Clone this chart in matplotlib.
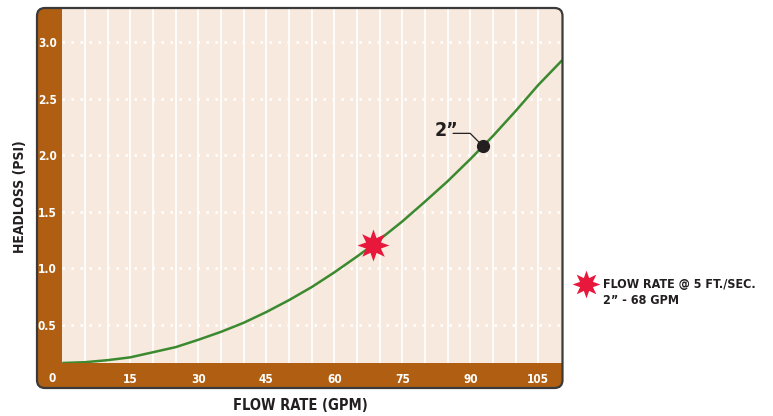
import matplotlib
matplotlib.use("Agg")
import matplotlib.pyplot as plt
import numpy as np
from matplotlib.patches import FancyBboxPatch
from matplotlib.lines import Line2D

# values
flow_gpm = [0, 5, 10, 15, 20, 25, 30, 35, 40, 45, 50, 55, 60, 65, 68.6, 70,
            75, 80, 85, 90, 95, 100, 105, 110.3]
headloss_psi = [0.165, 0.172, 0.19, 0.215, 0.26, 0.305, 0.37, 0.44, 0.52, 0.615,
                0.72, 0.835, 0.965, 1.105, 1.21, 1.255, 1.415, 1.59, 1.77, 1.965,
                2.17, 2.39, 2.62, 2.84]
x_ticks = [15, 30, 45, 60, 75, 90, 105]
y_ticks = [0.5, 1.0, 1.5, 2.0, 2.5, 3.0]
star_point = (68.6, 1.21)      # flow rate @ 5 ft/sec
pipe_point = (92.8, 2.08)      # 2" label dot

BROWN = '#B05F12'
BEIGE = '#F7E9DD'
GREEN = '#3B8A30'
RED = '#E8173C'
DARK = '#231F20'

FONT = dict(family='DejaVu Sans', fontstretch='condensed', fontweight='bold')

W, H = 773, 416
fig = plt.figure(figsize=(W / 100, H / 100), dpi=100)
fig.patch.set_facecolor('white')


def fx(x):
    return x / W


def fy(y):
    return 1 - y / H


# rounded outer frame (brown band shows at left and bottom)
r = 8
frame = FancyBboxPatch((fx(37), fy(388)), fx(562.5) - fx(37), fy(8) - fy(388),
                       boxstyle=f'round,pad=0,rounding_size={r / W}',
                       mutation_aspect=W / H, transform=fig.transFigure,
                       facecolor=BROWN, edgecolor='none', zorder=-1)
fig.patches.append(frame)

ax = fig.add_axes([fx(62.3), fy(363), fx(562.3) - fx(62.3), fy(8) - fy(363)])
ax.set_zorder(1)
ax.set_facecolor(BEIGE)
ax.patch.set_clip_path(frame)

xmin, xmax = 0, 110.3
ymin, ymax = 0.165, 3.30
ax.set_xlim(xmin, xmax)
ax.set_ylim(ymin, ymax)

# grid: solid white verticals every 5 gpm, dotted white horizontals
for xv in np.arange(5, 110, 5):
    ax.axvline(xv, color='white', lw=1.3, zorder=1)
for yv in y_ticks:
    ax.axhline(yv, color='white', lw=1.8, ls=(0, (1, 2.6)), zorder=1)

ax.plot(flow_gpm, headloss_psi, color=GREEN, lw=1.8, zorder=3,
        solid_capstyle='butt', solid_joinstyle='round')

# 8-point star marker
ang_out = np.deg2rad(90 + 45 * np.arange(8))
ang_in = ang_out + np.deg2rad(22.5)
verts = []
for a, b in zip(ang_out, ang_in):
    verts.append((np.cos(a), np.sin(a)))
    verts.append((0.5 * np.cos(b), 0.5 * np.sin(b)))
verts.append(verts[0])

ax.plot(*star_point, marker=verts, markersize=23, color=RED, mec='none', zorder=5)
ax.plot(*pipe_point, marker='o', markersize=8.5, color=DARK, zorder=5)

# 2" leader
ax.annotate('', xy=pipe_point, xytext=(86.2, 2.193),
            arrowprops=dict(arrowstyle='-', color=DARK, lw=0.9,
                            connectionstyle='angle,angleA=0,angleB=135,rad=0',
                            shrinkA=0, shrinkB=4))
fig.text(fx(446), fy(131), '2\u201d', ha='center', va='center', fontsize=14,
         color=DARK, **FONT)

for s in ['left', 'bottom', 'top', 'right']:
    ax.spines[s].set_visible(False)

ax.set_xticks(x_ticks)
ax.set_yticks(y_ticks)
ax.set_xticklabels([str(v) for v in x_ticks])
ax.set_yticklabels([f'{v:.1f}' for v in y_ticks])
ax.tick_params(length=0, colors='white')
ax.tick_params(axis='x', pad=7)
ax.tick_params(axis='y', pad=4)
for lab in ax.get_xticklabels() + ax.get_yticklabels():
    lab.set_fontsize(8.5)
    lab.set_fontweight('bold')
    lab.set_fontstretch('condensed')
    lab.set_color('white')
fig.text(fx(52), fy(378), '0', ha='center', va='center', fontsize=8.5,
         color='white', zorder=5, **FONT)

# border drawn over everything
border = FancyBboxPatch((fx(37), fy(388)), fx(562.5) - fx(37), fy(8) - fy(388),
                        boxstyle=f'round,pad=0,rounding_size={r / W}',
                        mutation_aspect=W / H, transform=fig.transFigure,
                        facecolor='none', edgecolor='#3a3a3a', lw=1.6, zorder=10)
fig.patches.append(border)

fig.text(fx(20.5), fy(197), 'HEADLOSS (PSI)', rotation=90, ha='center', va='center',
         fontsize=10, color=DARK, **FONT)
fig.text(fx(300), fy(405.5), 'FLOW RATE (GPM)', ha='center', va='center',
         fontsize=10.5, color=DARK, **FONT)

# legend at right
fig.lines.append(Line2D([fx(586)], [fy(284)], marker=verts, markersize=20, color=RED,
                        mec='none', transform=fig.transFigure))
fig.text(fx(603), fy(284), 'FLOW RATE @ 5 FT./SEC.', ha='left', va='center',
         fontsize=9, color=DARK, **FONT)
fig.text(fx(603), fy(300.5), '2\u201d - 68 GPM', ha='left', va='center',
         fontsize=9, color=DARK, **FONT)

fig.savefig('out.png', dpi=100)
